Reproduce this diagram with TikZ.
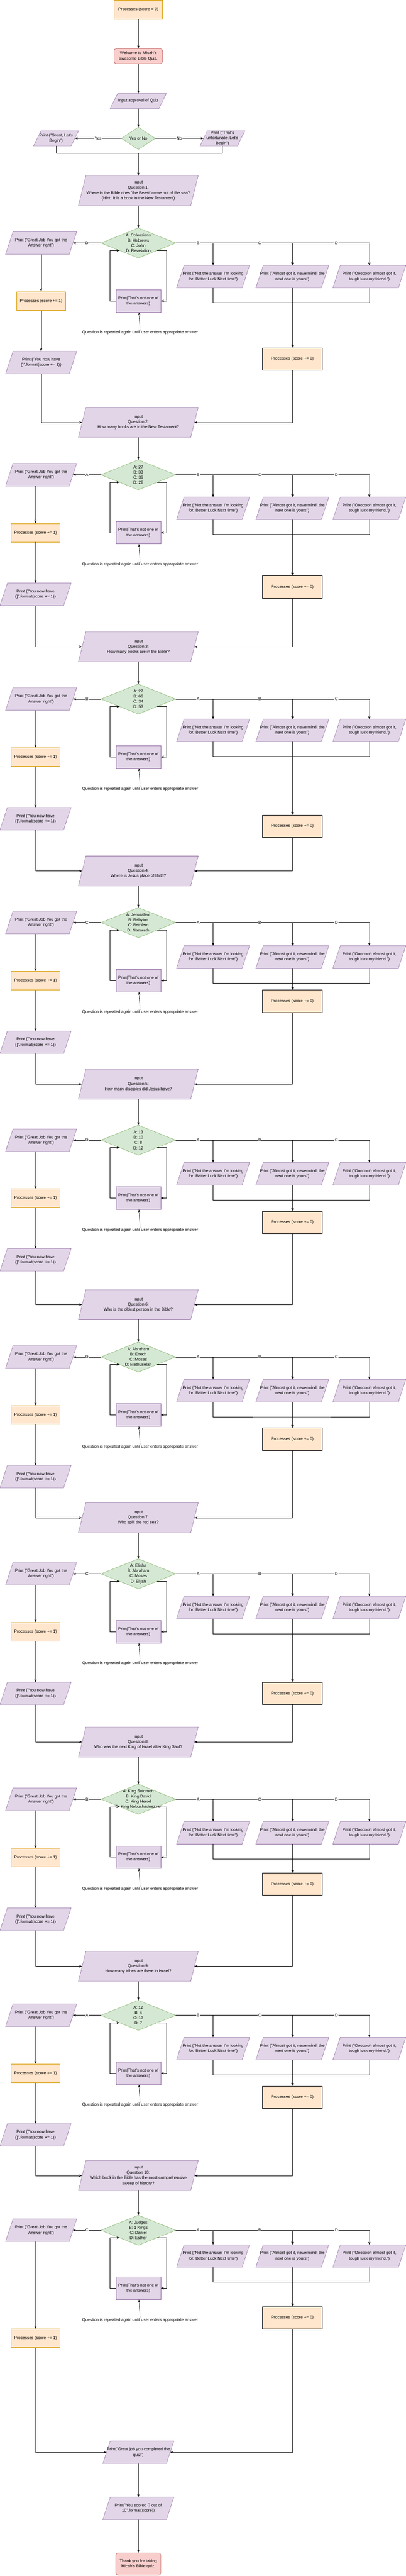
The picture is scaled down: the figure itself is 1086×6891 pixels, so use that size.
\documentclass[tikz,border=0pt]{standalone}
\usepackage{fontspec}
\setmainfont{Liberation Sans}
\usetikzlibrary{arrows.meta,backgrounds,calc}
\definecolor{iofill}{HTML}{E1D5E7}
\definecolor{ioline}{HTML}{9673A6}
\definecolor{procfill}{HTML}{FFE6CC}
\definecolor{procline}{HTML}{D79B00}
\definecolor{termfill}{HTML}{F8CECC}
\definecolor{termline}{HTML}{B85450}
\definecolor{choicefill}{HTML}{D5E8D4}
\definecolor{choiceline}{HTML}{82B366}
\tikzset{
  qtext/.style={align=center, inner sep=0pt, font=\fontsize{11}{14}\selectfont},
  iobox/.style={qtext, minimum width=#1, minimum height=60},
  ioshape/.style={draw=ioline, fill=iofill, line width=0.8pt},
  choicebox/.style={qtext, minimum width=200, minimum height=80},
  choiceshape/.style={draw=choiceline, fill=choicefill, line width=0.8pt},
  procbox/.style={qtext, draw=procline, fill=procfill, line width=0.8pt, minimum width=130, minimum height=50},
  zerobox/.style={procbox, draw=black, minimum width=160, minimum height=60},
  termbox/.style={qtext, draw=termline, fill=termfill, line width=0.8pt, rounded corners=6pt, minimum width=130, minimum height=40},
  notbox/.style={qtext, draw=ioline, fill=iofill, line width=0.8pt, minimum width=120, minimum height=60},
  flowline/.style={-{Stealth[length=8pt,width=6pt]}, line width=0.8pt},
  edgetag/.style={qtext, fill=white, inner sep=1pt}
}
\newcommand{\drawio}[1]{\draw[ioshape] ([xshift=10pt]#1.north west) -- ([xshift=10pt]#1.north east) -- ([xshift=-10pt]#1.south east) -- ([xshift=-10pt]#1.south west) -- cycle;}
\newcommand{\drawchoice}[1]{\draw[choiceshape] (#1.north) -- (#1.east) -- (#1.south) -- (#1.west) -- cycle;}
\newcommand{\setq}[7]{%
  \expandafter\def\csname qq#1\endcsname{#2}%
  \expandafter\def\csname qo#1\endcsname{#3}%
  \expandafter\def\csname ok#1\endcsname{#4}%
  \expandafter\def\csname la#1\endcsname{#5}%
  \expandafter\def\csname lb#1\endcsname{#6}%
  \expandafter\def\csname lc#1\endcsname{#7}}
\setq{1}{Where in the Bible does 'the Beast' come out of the sea?\\(Hint: It is a book in the New Testament)}{A: Colossians\\B: Hebrews\\C: John\\D: Revelation}{D}{B}{C}{D}
\setq{2}{How many books are in the New Testament?}{A: 27\\B: 33\\C: 39\\D: 28}{A}{B}{C}{D}
\setq{3}{How many books are in the Bible?}{A: 27\\B: 66\\C: 34\\D: 53}{B}{A}{B}{C}
\setq{4}{Where is Jesus place of Birth?}{A: Jerusalem\\B: Babylon\\C: Bethlem\\D: Nazareth}{C}{A}{B}{D}
\setq{5}{How many disciples did Jesus have?}{A: 13\\B: 10\\C: 8\\D: 12}{D}{A}{B}{C}
\setq{6}{Who is the oldest person in the Bible?}{A: Abraham\\B: Enoch\\C: Moses\\D: Methuselah}{D}{A}{B}{C}
\setq{7}{Who split the red sea?}{A: Elisha\\B: Abraham\\C: Moses\\D: Elijah}{C}{A}{B}{D}
\setq{8}{Who was the next King of Israel after King Saul?}{A: King Solomon\\B: King David\\C: King Herod\\D: King Nebuchadnezzar}{B}{A}{C}{D}
\setq{9}{How many tribes are there in Israel?}{A: 12\\B: 4\\C: 13\\D: 7}{A}{B}{C}{D}
\setq{10}{Which book in the Bible has the most comprehensive\\sweep of history?}{A: Judges\\B: 1 Kings\\C: Daniel\\D: Esther}{C}{A}{B}{D}
\begin{document}
\begin{tikzpicture}[x=1pt,y=-1pt]
\useasboundingbox (0,0) rectangle (1086,6891);

\node[procbox] (start) at (370,26) {Processes (score = 0)};
\node[termbox] (welcome) at (370,150) {Welcome to Micah's\\awesome Bible Quiz.};
\node[iobox=130, minimum height=40] (approve) at (370,270) {Input approval of Quiz};
\node[choicebox, minimum width=90, minimum height=59] (yn) at (370,370) {Yes or No};
\node[iobox=100, minimum height=40] (begin) at (150,370) {Print ("Great, Let's\\Begin")};
\node[iobox=100, minimum height=40] (sorry) at (595,370) {Print ("That's\\unfortunate, Let's\\Begin")};
\coordinate (m0) at (370,410);

\draw[flowline] (start) -- (welcome);
\draw[flowline] (welcome) -- (approve);
\draw[flowline] (approve) -- (yn);
\draw[flowline] (yn) -- node[edgetag] {Yes} (begin);
\draw[flowline] (yn) -- node[edgetag] {No} (sorry);
\draw[line width=0.8pt] (begin) |- (m0);
\draw[line width=0.8pt] (sorry) |- (m0);

\foreach \i/\ti/\dy/\wy/\py/\zy/\yy in {1/470/650/740/805/960/970, 2/1090/1270/1360/1425/1570/1590,
    3/1690/1870/1954/2025/2210/2190, 4/2290/2468/2560/2623/2678/2788, 5/2860/3050/3140/3205/3270/3370,
    6/3450/3630/3720/3785/3850/3950, 7/4020/4210/4300/4365/4530/4530, 8/4620/4813/4903/4969/5040/5134,
    9/5220/5391/5480/5546/5610/5711, 10/5780/5966/6035/6255/6200/0}{
  \pgfmathtruncatemacro{\lx}{\i==1 ? 110 : 95}
  \node[iobox=300, minimum height=80] (q\i) at (370,\ti+40) {Input\\Question \i:\\\csname qq\i\endcsname};
  \node[choicebox] (d\i) at (370,\dy) {\csname qo\i\endcsname};
  \node[iobox=170] (g\i) at (110,\dy) {Print ("Great Job You got the\\Answer right")};
  \node[procbox] (p\i) at (\lx,\py) {Processes (score += 1)};
  \node[notbox] (n\i) at (370,\dy+155) {Print(That's not one of\\the answers)};
  \node[qtext] (r\i) at (375,\dy+240) {Question is repeated again until user enters appropriate answer};
  \node[iobox=175] (a\i) at (570,\wy) {Print ("Not the answer I'm looking\\for. Better Luck Next time")};
  \node[iobox=175] (b\i) at (782,\wy) {Print ("Almost got it, nevermind, the\\next one is yours")};
  \node[iobox=175] (c\i) at (988,\wy) {Print ("Ooooooh almost got it,\\tough luck my friend.")};
  \node[zerobox] (z\i) at (782,\zy) {Processes (score += 0)};
  \coordinate (j\i) at (782,\wy+70);
  \draw[flowline] (q\i) -- (d\i);
  \draw[flowline] (d\i) -- node[edgetag] {\csname ok\i\endcsname} (g\i);
  \draw[flowline] (g\i.south -| p\i.north) -- (p\i);
  \draw[flowline] (n\i.west) -- ([xshift=-15pt]n\i.west) |- ($(d\i.west)!.5!(d\i.south)$);
  \draw[flowline] ($(d\i.east)!.5!(d\i.south)$) -| ([xshift=15pt]n\i.east) -- (n\i.east);
  \draw[flowline] (r\i) -- (n\i);
  \draw[flowline] (d\i.east) -| node[edgetag, pos=.415] {\csname lc\i\endcsname} (c\i);
  \draw[flowline] (d\i.east) -| node[edgetag, pos=.36] {\csname lb\i\endcsname} (b\i);
  \draw[flowline] (d\i.east) -| node[edgetag, pos=.3] {\csname la\i\endcsname} (a\i);
  \draw[line width=0.8pt] (a\i) |- (j\i) -| (c\i);
  \draw[flowline] (b\i) -- (z\i);
  \ifnum\i<10
    \node[iobox=170] (y\i) at (\lx,\yy) {Print ("You now have\\\{\}".format(score += 1))};
    \draw[flowline] (p\i) -- (y\i);
  \fi
}

\draw[flowline] (m0) -- (q1);
\foreach \i [count=\j from 2] in {1,...,9} {
  \draw[flowline] (y\i) |- (q\j);
  \draw[flowline] (z\i) |- (q\j);
}

\node[iobox=170] (done) at (370,6560) {Print("Great job you completed the\\quiz")};
\node[iobox=170] (scored) at (370,6710) {Print("You scored \{\} out of\\10".format(score))};
\node[termbox, minimum width=120, minimum height=60] (bye) at (370,6859) {Thank you for taking\\Micah's Bible quiz.};
\draw[flowline] (p10) |- (done);
\draw[flowline] (z10) |- (done);
\draw[flowline] (done) -- (scored);
\draw[flowline] (scored) -- (bye);

\begin{scope}[on background layer]
  \foreach \n in {approve,begin,sorry,done,scored} {\drawio{\n}}
  \drawchoice{yn}
  \foreach \i in {1,...,10} {
    \foreach \n in {q\i,g\i,a\i,b\i,c\i} {\drawio{\n}}
    \drawchoice{d\i}
  }
  \foreach \i in {1,...,9} {\drawio{y\i}}
\end{scope}
\end{tikzpicture}
\end{document}
